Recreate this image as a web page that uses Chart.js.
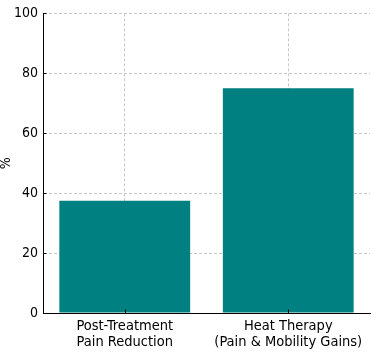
<!DOCTYPE html>
<html>
<head>
<meta charset="utf-8">
<script src="https://cdn.jsdelivr.net/npm/chart.js@4/dist/chart.umd.min.js"></script>
<style>
html,body{margin:0;padding:0;background:#fff;}
#wrap{width:382px;height:356px;position:relative;}
</style>
</head>
<body>
<div id="wrap"><canvas id="c"></canvas></div>
<script>
const categories = [["Post-Treatment","Pain Reduction"],["Heat Therapy","(Pain & Mobility Gains)"]];
const values = [37.5, 75];
const yTicks = [0, 20, 40, 60, 80, 100];
const yLabel = "%";

const FONT = "'DejaVu Sans Condensed', 'DejaVu Sans', sans-serif";

const inwardTicks = {
  id: 'inwardTicks',
  afterDraw(chart) {
    const ctx = chart.ctx, a = chart.chartArea;
    const xs = chart.scales.x, ys = chart.scales.y;
    ctx.save();
    ctx.strokeStyle = '#000';
    ctx.lineWidth = 1;
    ctx.beginPath();
    yTicks.forEach(v => {
      const y = Math.round(ys.getPixelForValue(v)) + 0.5;
      ctx.moveTo(a.left, y); ctx.lineTo(a.left + 3.5, y);
    });
    categories.forEach((c, i) => {
      const x = Math.round(xs.getPixelForValue(i)) + 0.5;
      ctx.moveTo(x, a.bottom); ctx.lineTo(x, a.bottom - 3.5);
    });
    ctx.stroke();
    ctx.restore();
  }
};

new Chart(document.getElementById('c'), {
  type: 'bar',
  data: {
    labels: categories,
    datasets: [{
      data: values,
      backgroundColor: '#008080',
      borderWidth: 0,
      barPercentage: 0.8,
      categoryPercentage: 1.0
    }]
  },
  options: {
    responsive: true,
    maintainAspectRatio: false,
    animation: false,
    devicePixelRatio: 1,
    layout: { padding: { left: 0, top: 11, right: 12, bottom: 0 } },
    plugins: { legend: { display: false }, tooltip: { enabled: false } },
    scales: {
      x: {
        z: 1,
        offset: true,
        grid: { offset: false, color: '#c8c8c8', lineWidth: 1, drawTicks: false },
        border: { display: true, color: '#000', width: 1, dash: [3,2] },
        ticks: { color: '#000', font: { family: FONT, size: 14.5, lineHeight: 1.1 }, padding: 5, maxRotation: 0, autoSkip: false },
        afterFit(s) { s.height = 43; }
      },
      y: {
        z: 1,
        min: 0, max: 100,
        afterBuildTicks(s) { s.ticks = yTicks.map(v => ({ value: v })); },
        grid: { color: '#c8c8c8', lineWidth: 1, drawTicks: false },
        border: { display: true, color: '#000', width: 1, dash: [3,2] },
        ticks: { color: '#000', font: { family: FONT, size: 14 }, padding: 5 },
        title: { display: true, text: yLabel, color: '#000', font: { family: FONT, size: 14 }, padding: { top: -2, bottom: 4 } },
        afterFit(s) { s.width = 43; }
      }
    }
  },
  plugins: [inwardTicks]
});
</script>
</body>
</html>
